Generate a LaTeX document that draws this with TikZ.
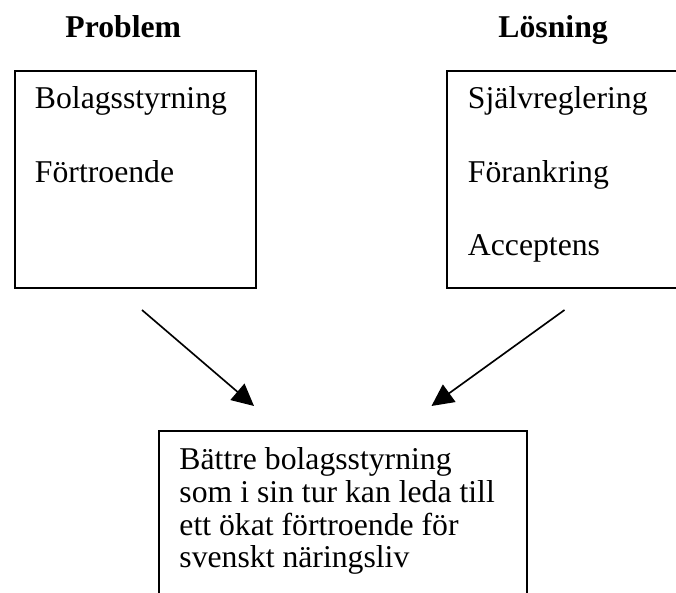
\documentclass[tikz,border=0pt]{standalone}
\usepackage{fontspec}
\setmainfont{Liberation Serif}
\usetikzlibrary{arrows.meta}
\begin{document}
\begin{tikzpicture}[x=0.014793cm,y=-0.014793cm]
		% stilar
		\tikzstyle{ruta}=[rectangle,draw,line width=0.7pt,anchor=north west,inner sep=0pt]
		\tikzstyle{rubrik}=[anchor=base west,inner sep=0pt,font=\fontsize{13.34}{13.76}\selectfont\bfseries]
		\tikzstyle{punkt}=[anchor=base west,inner sep=0pt,font=\fontsize{13.34}{13.76}\selectfont]
		\tikzstyle{pil}=[-{Triangle[length=9.2pt,width=9pt]},line width=0.7pt]
		\useasboundingbox (0,0) rectangle (676,593);
		\clip (0,0) rectangle (676,593);
		% rubriker
		\node[rubrik] (prob) at (65,38) {Problem};
		\node[rubrik] (losn) at (498,38) {Lösning};
		% rutorna
		\node[ruta,minimum width=3.565cm,minimum height=3.21cm] (vanster) at (14,70) {};
		\node[ruta,minimum width=3.565cm,minimum height=3.21cm] (hoger) at (446,70) {};
		\node[ruta,minimum width=5.444cm,minimum height=2.6cm] (resultat) at (158,430) {};
		% texterna
		\node[punkt] (bolag) at (34.5,108.5) {Bolagsstyrning};
		\node[punkt] (fortr) at (34.5,182.5) {Förtroende};
		\node[punkt] (sjalv) at (467.5,108.5) {Självreglering};
		\node[punkt] (foran) at (467.5,182.5) {Förankring};
		\node[punkt] (accep) at (467.5,256) {Acceptens};
		\node[punkt,align=left] (battre) at (179,568) {Bättre bolagsstyrning\\som i sin tur kan leda till\\ett ökat förtroende för\\svenskt näringsliv};
		% pilarna
		\coordinate (pstart) at (142,310);
		\coordinate (pslut) at (254,406);
		\coordinate (lstart) at (564.5,310);
		\coordinate (lslut) at (431.5,406);
		\draw[pil] (pstart) -- (pslut);
		\draw[pil] (lstart) -- (lslut);
	\end{tikzpicture}
\end{document}
